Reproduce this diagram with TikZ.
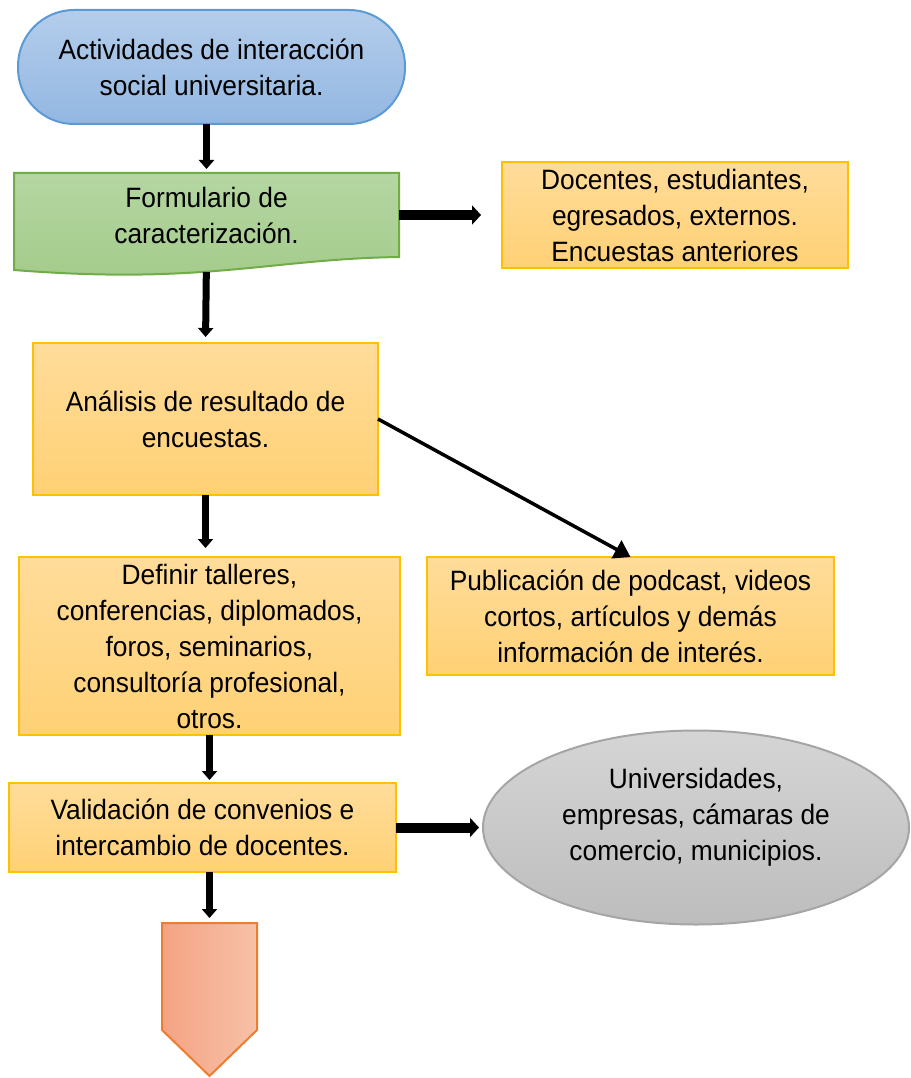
\documentclass[tikz,border=0pt]{standalone}
\usepackage{fontspec}
\setmainfont{Liberation Sans}[FakeStretch=0.94]
\usetikzlibrary{arrows.meta,backgrounds,positioning,shapes.geometric}

\definecolor{blueedge}{HTML}{5B9BD5}
\definecolor{bluetop}{HTML}{B4CDEB}
\definecolor{bluebot}{HTML}{93B7E2}
\definecolor{greenedge}{HTML}{70AD47}
\definecolor{greentop}{HTML}{B5D6A2}
\definecolor{greenbot}{HTML}{A3CB8A}
\definecolor{goldedge}{HTML}{FFC000}
\definecolor{goldtop}{HTML}{FFDC9A}
\definecolor{goldbot}{HTML}{FFD175}
\definecolor{grayedge}{HTML}{A5A5A5}
\definecolor{graytop}{HTML}{D5D5D5}
\definecolor{graybot}{HTML}{BDBDBD}
\definecolor{salmonedge}{HTML}{ED7D31}
\definecolor{salmonleft}{HTML}{F4A383}
\definecolor{salmonright}{HTML}{F7C1A8}

\begin{document}
\begin{tikzpicture}[
  x=1pt,y=-1pt,
  font=\fontsize{28}{36}\selectfont,
  base/.style={align=center,line width=2pt,inner sep=4pt,outer sep=0pt},
  terminal/.style={base,draw=blueedge,top color=bluetop,bottom color=bluebot,
    rounded corners=56pt,minimum width=387pt,minimum height=114pt},
  task/.style={base,draw=goldedge,top color=goldtop,bottom color=goldbot},
  party/.style={base,ellipse,draw=grayedge,top color=graytop,bottom color=graybot},
  flow/.style={-{Triangle[width=15pt,length=9pt]},line width=7pt},
  sidearrow/.style={-{Triangle[width=19pt,length=9pt]},line width=10pt},
  slant/.style={-{Triangle[width=20pt,length=16pt]},line width=3.5pt}
]
  \useasboundingbox (0,0) rectangle (910,1078);
  \node[terminal] (start) at (211.5,67) {Actividades de interacción\\social universitaria.};
  \node[base,minimum width=385pt,minimum height=84pt,below=49pt of start,xshift=-5pt] (form)
    {Formulario de\\caracterización.};
  \node[task,minimum width=346pt,minimum height=106pt,right=103pt of form] (users)
    {Docentes, estudiantes,\\egresados, externos.\\Encuestas anteriores};
  \node[task,minimum width=345pt,minimum height=152pt,below=86pt of form,xshift=-1pt] (analysis)
    {Análisis de resultado de\\encuestas.};
  \node[task,minimum width=381pt,minimum height=178pt,below=62pt of analysis,xshift=4pt] (workshops)
    {Definir talleres,\\conferencias, diplomados,\\foros, seminarios,\\consultoría profesional,\\otros.};
  \node[task,minimum width=407pt,minimum height=118pt,right=27pt of workshops.north east,anchor=north west] (media)
    {Publicación de podcast, videos\\cortos, artículos y demás\\información de interés.};
  \node[task,minimum width=387pt,minimum height=89pt,below=48pt of workshops,xshift=-7pt] (agreements)
    {Validación de convenios e\\intercambio de docentes.};
  \node[party,minimum width=426pt,minimum height=194pt,text depth=26pt,right=87pt of agreements] (partners)
    {Universidades,\\empresas, cámaras de\\comercio, municipios.};
  \node[inner sep=0pt,outer sep=0pt,minimum width=95pt,minimum height=153pt,below=51pt of agreements,xshift=7pt] (next) {};

  % wavy document shape behind the form text
  \begin{scope}[on background layer]
    \path[draw=greenedge,line width=2pt,top color=greentop,bottom color=greenbot]
      (form.north west) -- (form.north east) -- (form.south east)
      .. controls ([xshift=-130pt,yshift=-2pt]form.south east) and ([xshift=190pt,yshift=-28pt]form.south west)
      .. ([yshift=-13pt]form.south west) -- cycle;
  \end{scope}
  % off-page connector
  \path[draw=salmonedge,line width=2pt,left color=salmonleft,right color=salmonright]
    (next.north west) -- (next.north east) -- ([yshift=46pt]next.south east)
    -- (next.south) -- ([yshift=46pt]next.south west) -- cycle;

  \draw[flow,shorten >=4pt] (start.south -| form.north) -- (form.north);
  \draw[sidearrow,shorten >=21pt] (form.east) -- (users.west);
  \draw[flow,shorten <=15pt,shorten >=6pt] (form.south) -- (analysis.north);
  \draw[slant] (analysis.east) -- (media.north);
  \draw[flow,shorten >=9pt] (analysis.south) -- (analysis.south |- workshops.north);
  \draw[flow,shorten >=3pt] (workshops.south) -- (workshops.south |- agreements.north);
  \draw[sidearrow,shorten >=4pt] (agreements.east) -- (partners.west);
  \draw[flow,shorten >=5pt] (agreements.south -| next.north) -- (next.north);
\end{tikzpicture}
\end{document}
